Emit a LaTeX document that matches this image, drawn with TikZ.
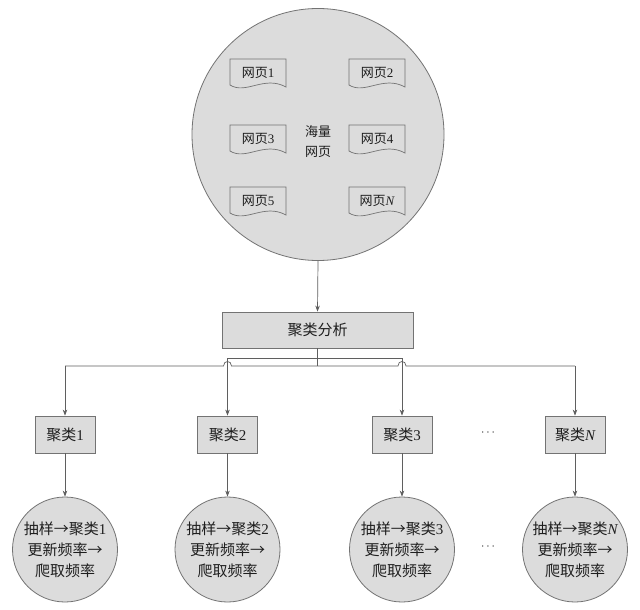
\documentclass[tikz,border=0pt]{standalone}
\usepackage{fontspec}
\setmainfont{Liberation Serif}
\newfontfamily\cjk{Noto Sans CJK SC}
\usetikzlibrary{arrows.meta,calc}
\definecolor{fillc}{RGB}{220,220,220}
\definecolor{linec}{RGB}{115,115,115}
\definecolor{conc}{RGB}{95,95,95}
\definecolor{txtc}{RGB}{30,30,30}
\tikzset{
  box/.style={rectangle, draw=linec, fill=fillc, line width=0.8pt, inner sep=0pt},
  bigtxt/.style={font=\cjk\fontsize{15pt}{21pt}\selectfont, text=txtc},
  smalltxt/.style={font=\cjk\fontsize{13pt}{20pt}\selectfont, text=txtc},
  conn/.style={draw=conc, line width=0.7pt},
  arr/.style={conn, -{Stealth[length=6pt,width=4.5pt]}},
  docline/.style={draw=linec, fill=fillc, line width=0.7pt},
  circ/.style={circle, draw=linec, fill=fillc, line width=0.8pt, inner sep=0pt},
  dots/.style={font=\fontsize{12pt}{12pt}\selectfont, text=txtc}
}
\newcommand\mydoc[4]{%
  \draw[docline] (#2-28,#3+12) -- (#2-28,#3-14) -- (#2+28,#3-14) -- (#2+28,#3+14)
     .. controls (#2+6,#3+2) and (#2-12,#3+22) .. (#2-28,#3+12) -- cycle;
  \node[smalltxt] (#1) at (#2,#3) {#4};
}
\begin{document}
\begin{tikzpicture}[x=1pt,y=-1pt]
\useasboundingbox[fill=white] (0,0) rectangle (640,610);
% big circle
\node[circ, minimum size=252pt] (big) at (318,134.5) {};
\node[smalltxt, align=center] (hl) at (318,142) {海量\\网页};
\mydoc{d1}{258}{73}{网页\rmfamily 1}
\mydoc{d2}{377}{73}{网页\rmfamily 2}
\mydoc{d3}{258}{139}{网页\rmfamily 3}
\mydoc{d4}{377}{139}{网页\rmfamily 4}
\mydoc{d5}{258}{201}{网页\rmfamily 5}
\mydoc{d6}{377}{201}{网页\rmfamily\itshape N}
% analysis box
\node[box, bigtxt, minimum width=191pt, minimum height=36pt] (ana) at (317.5,330) {聚类分析};
\draw[arr] (big.south) -- (ana.north);
% clusters
\node[box, bigtxt, minimum width=60pt, minimum height=37pt] (c1) at (65,434.5) {聚类\rmfamily 1};
\node[box, bigtxt, minimum width=60pt, minimum height=37pt] (c2) at (227.5,434.5) {聚类\rmfamily 2};
\node[box, bigtxt, minimum width=60pt, minimum height=37pt] (c3) at (402,434.5) {聚类\rmfamily 3};
\node[box, bigtxt, minimum width=60pt, minimum height=37pt] (c4) at (575,434.5) {聚类\rmfamily\itshape N};
% circles
\node[circ, minimum size=105pt, bigtxt, align=center] (p1) at (65,549.5) {抽样→聚类\rmfamily 1\\更新频率→\\爬取频率};
\node[circ, minimum size=105pt, bigtxt, align=center] (p2) at (227.5,549.5) {抽样→聚类\rmfamily 2\\更新频率→\\爬取频率};
\node[circ, minimum size=105pt, bigtxt, align=center] (p3) at (402,549.5) {抽样→聚类\rmfamily 3\\更新频率→\\爬取频率};
\node[circ, minimum size=105pt, bigtxt, align=center] (p4) at (575,549.5) {抽样→聚类\rmfamily\itshape N\\更新频率→\\爬取频率};
% dots
\node[dots] (dt1) at (488,433) {$\cdots$};
\node[dots] (dt2) at (488,547) {$\cdots$};
% connectors
\coordinate (jl) at (65,366);
\coordinate (jc) at (317.5,366);
\coordinate (jr) at (575,366);
\coordinate (u2) at (227.5,358);
\coordinate (u3) at (402,358);
\draw[conn] (ana.south) -- (jc);
\draw[conn] (u2) -- (u3);
\draw[conn] (jl) -- (223.5,366) .. controls (223.5,360) and (231.5,360) .. (231.5,366)
  -- (398,366) .. controls (398,360) and (406,360) .. (406,366) -- (jr);
\draw[arr] (jl) -- (c1.north);
\draw[arr] (u2) -- (c2.north);
\draw[arr] (u3) -- (c3.north);
\draw[arr] (jr) -- (c4.north);
\draw[arr] (c1) -- (p1);
\draw[arr] (c2) -- (p2);
\draw[arr] (c3) -- (p3);
\draw[arr] (c4) -- (p4);
\end{tikzpicture}
\end{document}
